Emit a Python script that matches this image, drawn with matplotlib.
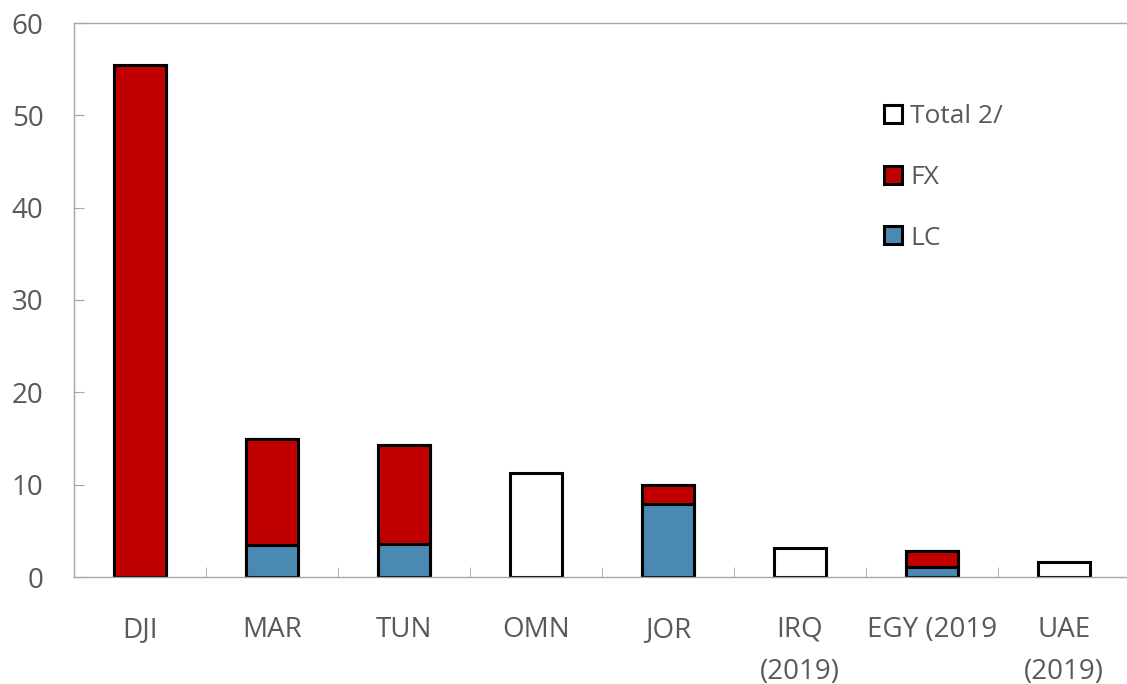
import matplotlib
matplotlib.use("Agg")
import matplotlib.pyplot as plt
from matplotlib.patches import Patch
import numpy as np

categories = ["DJI", "MAR", "TUN", "OMN", "JOR", "IRQ\n(2019)", "EGY (2019", "UAE\n(2019)"]
total = [55.4, 15.0, 14.3, 11.3, 10.0, 3.1, 2.85, 1.6]
lc = [0.0, 3.5, 3.6, 0.0, 7.9, 0.0, 1.1, 0.0]
fx = [55.4, 11.5, 10.7, 0.0, 2.1, 0.0, 1.75, 0.0]

RED = "#C00000"
BLUE = "#4A89B1"
GREY_TXT = "#595959"
GREY_AX = "#A6A6A6"

plt.rcParams["font.family"] = ["Open Sans", "DejaVu Sans"]

fig = plt.figure(figsize=(11.27, 6.84), dpi=100)
ax = fig.add_axes([74 / 1127, 1 - 577 / 684, 1 - 74 / 1127, (577 - 23) / 684])

x = np.arange(len(categories))
w = 0.4
edge = dict(edgecolor="black", linewidth=2.2)

# total bars first; the LC/FX breakdown is stacked over them where available
ax.bar(x, total, w, color="white", **edge)
lc_arr = np.array(lc)
fx_arr = np.array(fx)
has = (lc_arr + fx_arr) > 0
ax.bar(x[has], lc_arr[has], w, color=BLUE, **edge)
ax.bar(x[has], fx_arr[has], w, bottom=lc_arr[has], color=RED, **edge)

ax.set_ylim(0, 60)
ax.set_xlim(-0.5, 7.5 - 3 / 132)
ax.set_yticks(np.arange(0, 61, 10))
ax.set_xticks(x)
ax.set_xticklabels(categories, linespacing=1.65)
ax.set_xticks(np.arange(0.5, 7.5, 1), minor=True)

for s in ["left", "bottom", "top"]:
    ax.spines[s].set_color(GREY_AX)
    ax.spines[s].set_linewidth(1.0)
ax.spines["right"].set_visible(False)

ax.tick_params(axis="y", direction="in", length=7.5, color=GREY_AX, labelsize=20,
               labelcolor=GREY_TXT, pad=22)
ax.tick_params(axis="x", which="major", length=0, labelsize=20, labelcolor=GREY_TXT, pad=28)
ax.tick_params(axis="x", which="minor", direction="in", length=7.5, color=GREY_AX)

handles = [
    Patch(facecolor="white", edgecolor="black", linewidth=2.2, label="Total 2/"),
    Patch(facecolor=RED, edgecolor="black", linewidth=2.2, label="FX"),
    Patch(facecolor=BLUE, edgecolor="black", linewidth=2.2, label="LC"),
]
leg = ax.legend(handles=handles, loc="upper left", bbox_to_anchor=(0.747, 0.896),
                frameon=False, fontsize=19, handlelength=0.68, handleheight=0.68,
                handletextpad=0.3, labelspacing=1.35)
for t in leg.get_texts():
    t.set_color(GREY_TXT)

fig.savefig("out.png", dpi=100, facecolor="white")
